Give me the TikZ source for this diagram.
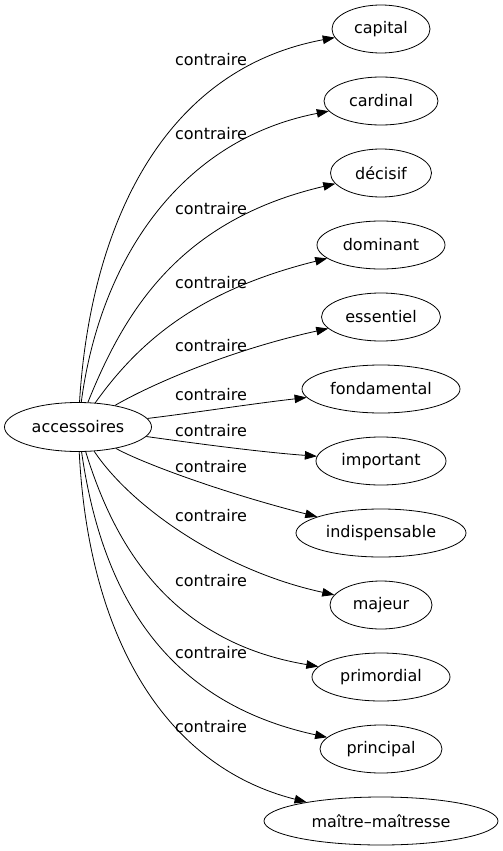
\documentclass[tikz,border=0pt]{standalone}
\usepackage{fontspec}
\setmainfont{DejaVu Sans}
\usetikzlibrary{shapes.geometric,arrows.meta}
\tikzset{
  tgt/.style={ellipse, draw, line width=0.8pt, inner sep=0pt, minimum height=48pt, font=\fontsize{16}{18}\selectfont},
  lbl/.style={inner sep=0pt, font=\fontsize{16}{18}\selectfont},
  edge/.style={line width=0.8pt, -{Triangle[length=12pt,width=8.5pt]}}
}
\begin{document}
\begin{tikzpicture}[x=1pt,y=-1pt]
\useasboundingbox (0,0) rectangle (503,851);
\node[tgt, minimum width=147pt, minimum height=49pt] (acc) at (78,427) {accessoires};
\node[tgt, minimum width=98pt]  (t1)  at (381,29)  {capital};
\node[tgt, minimum width=114pt] (t2)  at (381,101) {cardinal};
\node[tgt, minimum width=101pt] (t3)  at (381,173) {décisif};
\node[tgt, minimum width=128pt] (t4)  at (381,245) {dominant};
\node[tgt, minimum width=119pt] (t5)  at (381,317) {essentiel};
\node[tgt, minimum width=158pt] (t6)  at (381,389) {fondamental};
\node[tgt, minimum width=130pt] (t7)  at (381,461) {important};
\node[tgt, minimum width=170pt] (t8)  at (381,533) {indispensable};
\node[tgt, minimum width=102pt] (t9)  at (381,605) {majeur};
\node[tgt, minimum width=138pt] (t10) at (381,677) {primordial};
\node[tgt, minimum width=122pt] (t11) at (381,749) {principal};
\node[tgt, minimum width=234pt] (t12) at (381,821) {maître–maîtresse};

\draw[edge] (acc) .. controls (90,230) and (160,70) .. (t1);
\draw[edge] (acc) .. controls (100,260) and (180,140) .. (t2);
\draw[edge] (acc) .. controls (125,310) and (180,220) .. (t3);
\draw[edge] (acc) .. controls (140,340) and (200,290) .. (t4);
\draw[edge] (acc) .. controls (150,385) and (230,350) .. (t5);
\draw[edge] (acc) .. controls (200,412) and (250,404) .. (t6);
\draw[edge] (acc) .. controls (200,444) and (260,452) .. (t7);
\draw[edge] (acc) .. controls (140,462) and (220,492) .. (t8);
\draw[edge] (acc) .. controls (130,505) and (220,570) .. (t9);
\draw[edge] (acc) .. controls (110,530) and (160,640) .. (t10);
\draw[edge] (acc) .. controls (100,580) and (155,700) .. (t11);
\draw[edge] (acc) .. controls (88,630) and (160,765) .. (t12);

\node[lbl] (l1)  at (211,60)  {contraire};
\node[lbl] (l2)  at (211,134) {contraire};
\node[lbl] (l3)  at (211,209) {contraire};
\node[lbl] (l4)  at (211,283) {contraire};
\node[lbl] (l5)  at (211,346) {contraire};
\node[lbl] (l6)  at (211,395) {contraire};
\node[lbl] (l7)  at (211,431) {contraire};
\node[lbl] (l8)  at (211,467) {contraire};
\node[lbl] (l9)  at (211,516) {contraire};
\node[lbl] (l10) at (211,581) {contraire};
\node[lbl] (l11) at (211,653) {contraire};
\node[lbl] (l12) at (211,727) {contraire};
\end{tikzpicture}
\end{document}
